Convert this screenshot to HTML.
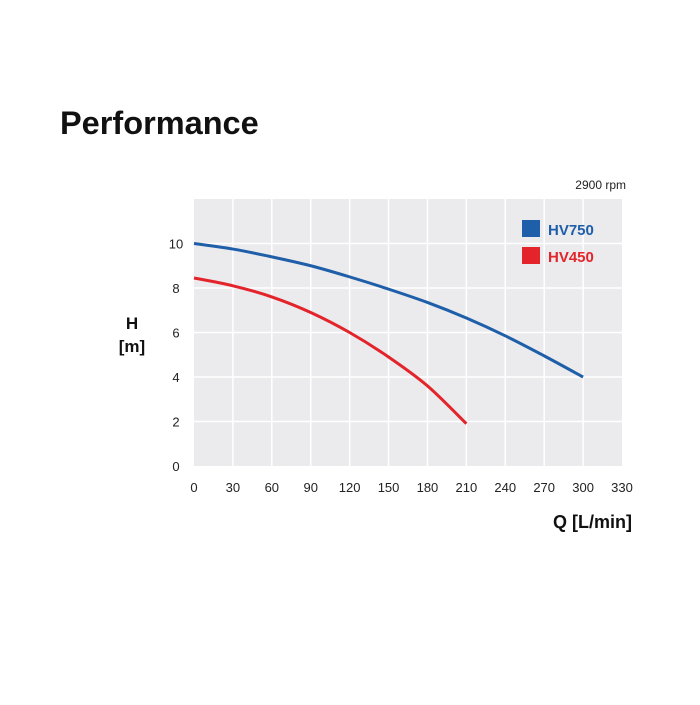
<!DOCTYPE html>
<html><head><meta charset="utf-8"><style>
body{margin:0;background:#fff;width:700px;height:700px;overflow:hidden;font-family:"Liberation Sans",sans-serif}
</style></head><body>
<svg width="700" height="700">
<text x="60" y="134" font-size="32.5" font-weight="bold" fill="#111">Performance</text>
<text x="626" y="189" font-size="12" text-anchor="end" fill="#222">2900 rpm</text>
<rect x="194" y="199" width="428" height="267" fill="#ebebed"/>
<g id="grid"></g><g id="ticks"></g><g id="series"></g>
<text x="132" y="329" font-size="17" font-weight="bold" text-anchor="middle" fill="#111">H</text>
<text x="132" y="352" font-size="17" font-weight="bold" text-anchor="middle" fill="#111">[m]</text>
<text x="632" y="528" font-size="18" font-weight="bold" text-anchor="end" fill="#111">Q [L/min]</text>
<rect x="522" y="220" width="18" height="17" fill="#1f5ea8"/>
<text x="548" y="235" font-size="15" font-weight="bold" fill="#1f5ea8">HV750</text>
<rect x="522" y="247" width="18" height="17" fill="#e3242b"/>
<text x="548" y="262" font-size="15" font-weight="bold" fill="#e3242b">HV450</text>
</svg>
<script>
const xTicks=[0,30,60,90,120,150,180,210,240,270,300,330];
const yTicks=[0,2,4,6,8,10];
const qValues750=[0,30,60,90,120,150,180,210,240,270,300];
const hValues750=[10,9.75,9.4,9.0,8.5,7.95,7.35,6.65,5.85,4.95,4.0];
const qValues450=[0,30,60,90,120,150,180,210];
const hValues450=[8.45,8.1,7.6,6.9,6.0,4.9,3.6,1.9];
const NS="http://www.w3.org/2000/svg";
const X0=194,X1=622,Y0=466,Y1=199,XMAX=330,YMAX=12;
const sx=v=>X0+(X1-X0)*v/XMAX, sy=v=>Y0-(Y0-Y1)*v/YMAX;
function mk(t,a,p){const e=document.createElementNS(NS,t);for(const k in a)e.setAttribute(k,a[k]);p.appendChild(e);return e;}
const grid=document.getElementById('grid'),ticks=document.getElementById('ticks'),ser=document.getElementById('series');
xTicks.forEach(v=>{
 if(v>0&&v<XMAX){const l=mk('line',{x1:sx(v),x2:sx(v),y1:Y1,y2:Y0,stroke:'#fff','stroke-width':1.5},grid);
 
 }
 const t=mk('text',{x:sx(v),y:492,'font-size':13,'text-anchor':'middle',fill:'#222'},ticks);t.textContent=v;
 
 
});
yTicks.forEach(v=>{
 if(v>0){const l=mk('line',{x1:X0,x2:X1,y1:sy(v),y2:sy(v),stroke:'#fff','stroke-width':1.5},grid);
 
 }
 const t=mk('text',{x:176,y:sy(v)+5,'font-size':13,'text-anchor':'middle',fill:'#222'},ticks);t.textContent=v;
 
 
});
function curve(qs,hs,c,name){
 let d='M'+sx(qs[0])+','+sy(hs[0]);
 for(let i=1;i<qs.length;i++){
  const p0=[sx(qs[Math.max(i-2,0)]),sy(hs[Math.max(i-2,0)])],p1=[sx(qs[i-1]),sy(hs[i-1])],p2=[sx(qs[i]),sy(hs[i])],p3=[sx(qs[Math.min(i+1,qs.length-1)]),sy(hs[Math.min(i+1,qs.length-1)])];
  d+=' C'+(p1[0]+(p2[0]-p0[0])/6)+','+(p1[1]+(p2[1]-p0[1])/6)+' '+(p2[0]-(p3[0]-p1[0])/6)+','+(p2[1]-(p3[1]-p1[1])/6)+' '+p2[0]+','+p2[1];
 }
 const p=mk('path',{d:d,fill:'none',stroke:c,'stroke-width':3},ser);
 
 
}
curve(qValues750,hValues750,'#1f5ea8','curve-hv750');
curve(qValues450,hValues450,'#e3242b','curve-hv450');
</script>
</body></html>
